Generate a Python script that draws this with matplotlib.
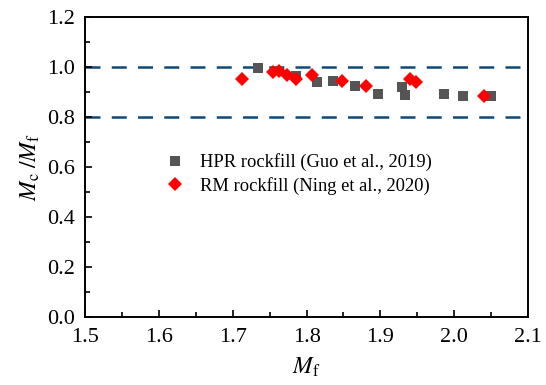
import matplotlib.pyplot as plt
from matplotlib.ticker import MultipleLocator

plt.rcParams['font.family'] = ['Liberation Serif', 'DejaVu Serif']
plt.rcParams['mathtext.fontset'] = 'stix'

# HPR rockfill (Guo et al., 2019)
hpr_mf = [1.734, 1.785, 1.814, 1.836, 1.866, 1.897, 1.929, 1.934, 1.986, 2.012, 2.050]
hpr_ratio = [0.995, 0.964, 0.941, 0.944, 0.922, 0.892, 0.921, 0.888, 0.892, 0.885, 0.885]

# RM rockfill (Ning et al., 2020)
rm_mf = [1.713, 1.755, 1.763, 1.774, 1.785, 1.807, 1.848, 1.880, 1.940, 1.948, 2.041]
rm_ratio = [0.952, 0.979, 0.984, 0.968, 0.952, 0.968, 0.942, 0.924, 0.950, 0.940, 0.885]

ref_levels = [1.0, 0.8]

fig = plt.figure(figsize=(5.46, 3.85), dpi=100)
ax = fig.add_axes([0.156, 0.177, 0.811, 0.779])

for lv in ref_levels:
    ax.axhline(lv, color='#0d4a7c', lw=1.8, ls=(0, (6, 4.5)), zorder=1)

ax.plot(hpr_mf, hpr_ratio, 's', color='#555555', ms=7, mew=0,
        label='HPR rockfill (Guo et al., 2019)', zorder=2)
ax.plot(rm_mf, rm_ratio, 'D', color='#ff0000', ms=7, mew=0,
        label='RM rockfill (Ning et al., 2020)', zorder=3)

ax.set_xlim(1.5, 2.1)
ax.set_ylim(0.0, 1.2)
ax.xaxis.set_major_locator(MultipleLocator(0.1))
ax.xaxis.set_minor_locator(MultipleLocator(0.05))
ax.yaxis.set_major_locator(MultipleLocator(0.2))
ax.yaxis.set_minor_locator(MultipleLocator(0.1))
ax.xaxis.set_major_formatter(plt.FormatStrFormatter('%.1f'))
ax.yaxis.set_major_formatter(plt.FormatStrFormatter('%.1f'))
ax.tick_params(which='both', direction='in', top=False, right=False,
               width=1.2, labelsize=16)
ax.tick_params(axis='y', pad=7)
ax.tick_params(axis='x', pad=8)
ax.tick_params(which='major', length=5)
ax.tick_params(which='minor', length=3.5)
for sp in ax.spines.values():
    sp.set_linewidth(1.4)

ax.set_xlabel(r'$M_\mathrm{f}$', fontsize=17, labelpad=6)
ax.set_ylabel(r'$M_\mathrm{c}\;/M_\mathrm{f}$', fontsize=17, labelpad=4)

ax.legend(loc='center left', bbox_to_anchor=(0.27, 0.548),
          bbox_transform=fig.transFigure, frameon=False, fontsize=13.3,
          handletextpad=0.75, labelspacing=0.3, handlelength=1.2)

fig.savefig('out.png', dpi=100)
